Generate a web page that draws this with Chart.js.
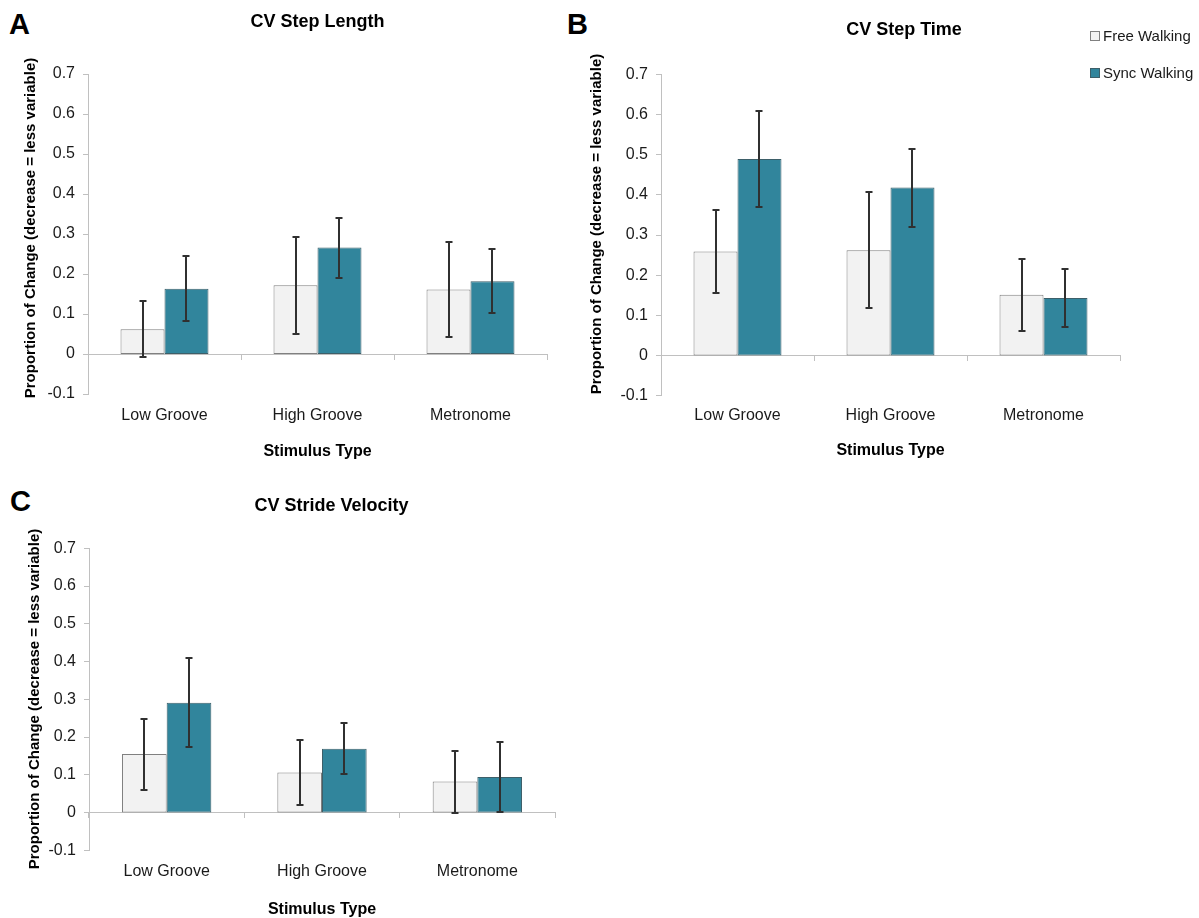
<!DOCTYPE html>
<html>
<head>
<meta charset="utf-8">
<script src="https://cdn.jsdelivr.net/npm/chart.js@4.4.1/dist/chart.umd.min.js"></script>
<style>
  html, body { margin: 0; padding: 0; background: #fff; overflow: hidden; width: 1199px; height: 918px; }
  body { position: relative; }
  canvas { position: absolute; }
  .tag { position: absolute; font: bold 29px 'Liberation Sans', Arial, sans-serif; line-height: 29px; color: #000; }
</style>
</head>
<body>
<div class="tag" style="left:9px;top:10px">A</div>
<div class="tag" style="left:567px;top:10px">B</div>
<div class="tag" style="left:10px;top:487px">C</div>
<canvas id="panelA" width="635" height="470" style="left:0;top:0"></canvas>
<canvas id="panelB" width="648" height="469" style="left:580px;top:0"></canvas>
<canvas id="panelC" width="663" height="458" style="left:0;top:470px"></canvas>
<script>
// Stimulus conditions and walking conditions
const categories = ['Low Groove', 'High Groove', 'Metronome'];
const seriesNames = ['Free Walking', 'Sync Walking'];

// Value axis range
const yMin = -0.1;
const yMax = 0.7;
const yStep = 0.1;

// CV Step Length: means and error half-widths
const stepLengthFree = [0.062, 0.172, 0.161];
const stepLengthFreeErr = [0.070, 0.121, 0.118];
const stepLengthSync = [0.163, 0.266, 0.182];
const stepLengthSyncErr = [0.081, 0.075, 0.080];

// CV Step Time
const stepTimeFree = [0.259, 0.262, 0.151];
const stepTimeFreeErr = [0.103, 0.144, 0.090];
const stepTimeSync = [0.489, 0.418, 0.143];
const stepTimeSyncErr = [0.120, 0.097, 0.072];

// CV Stride Velocity
const strideVelFree = [0.155, 0.106, 0.082];
const strideVelFreeErr = [0.094, 0.086, 0.082];
const strideVelSync = [0.291, 0.169, 0.094];
const strideVelSyncErr = [0.118, 0.068, 0.093];

const FONT = "'Liberation Sans', Arial, sans-serif";
const FREE_FILL = '#f2f2f2';
const FREE_EDGE = '#808080';
const SYNC_FILL = '#31859c';
const SYNC_EDGE = '#3d5f69';
const AXIS_GRAY = '#c0c0c0';
const TEXT = '#1a1a1a';

// Vertical error bars with short caps, drawn over each bar
const errorBars = {
  id: 'errorBars',
  afterDatasetsDraw(chart) {
    const ctx = chart.ctx;
    const y = chart.scales.y;
    chart.data.datasets.forEach((ds, i) => {
      const meta = chart.getDatasetMeta(i);
      meta.data.forEach((bar, j) => {
        const v = ds.data[j];
        const e = ds.errors[j];
        const top = Math.round(y.getPixelForValue(v + e));
        const bot = Math.round(y.getPixelForValue(v - e));
        const x = Math.round(bar.x);
        ctx.save();
        ctx.strokeStyle = '#303030';
        ctx.lineWidth = 2;
        ctx.beginPath();
        ctx.moveTo(x, top);
        ctx.lineTo(x, bot);
        ctx.stroke();
        ctx.lineWidth = 2;
        ctx.beginPath();
        ctx.moveTo(x - 3.5, top);
        ctx.lineTo(x + 3.5, top);
        ctx.moveTo(x - 3.5, bot);
        ctx.lineTo(x + 3.5, bot);
        ctx.stroke();
        ctx.restore();
      });
    });
  }
};

// Rotated value-axis caption
const valueAxisCaption = {
  id: 'valueAxisCaption',
  afterDraw(chart, args, opts) {
    if (!opts || !opts.text) return;
    const ctx = chart.ctx;
    ctx.save();
    ctx.translate(opts.x, opts.y);
    ctx.rotate(-Math.PI / 2);
    ctx.font = 'bold 15px ' + FONT;
    ctx.fillStyle = '#000';
    ctx.textAlign = 'center';
    ctx.textBaseline = 'middle';
    ctx.fillText(opts.text, 0, 0);
    ctx.restore();
  }
};

// Stacked key with small square swatches, built from the datasets
const stackedKey = {
  id: 'stackedKey',
  afterDraw(chart, args, opts) {
    if (!opts || !opts.show) return;
    const ctx = chart.ctx;
    ctx.save();
    ctx.font = '15px ' + FONT;
    ctx.textBaseline = 'middle';
    ctx.textAlign = 'left';
    chart.data.datasets.forEach((ds, i) => {
      const top = opts.y + i * opts.gap;
      ctx.fillStyle = ds.backgroundColor;
      ctx.fillRect(opts.x, top, opts.box, opts.box);
      ctx.strokeStyle = ds.borderColor;
      ctx.lineWidth = 1;
      ctx.strokeRect(opts.x + 0.5, top + 0.5, opts.box - 1, opts.box - 1);
      ctx.fillStyle = TEXT;
      ctx.fillText(ds.label, opts.x + opts.box + 3, top + opts.box / 2 + 0.5);
    });
    ctx.restore();
  }
};

function makePanel(id, title, free, freeErr, sync, syncErr, g) {
  return new Chart(document.getElementById(id), {
    type: 'bar',
    data: {
      labels: categories,
      datasets: [
        { label: seriesNames[0], data: free, errors: freeErr,
          backgroundColor: FREE_FILL, borderColor: FREE_EDGE, borderWidth: 1, borderSkipped: false },
        { label: seriesNames[1], data: sync, errors: syncErr,
          backgroundColor: SYNC_FILL, borderColor: SYNC_EDGE, borderWidth: 1, borderSkipped: false }
      ]
    },
    options: {
      responsive: false,
      animation: false,
      devicePixelRatio: 1,
      datasets: { bar: { categoryPercentage: 0.575, barPercentage: 1.0 } },
      layout: { padding: { left: 0, right: 0, top: 0, bottom: g.padBottom } },
      plugins: {
        legend: { display: false },
        tooltip: { enabled: false },
        title: {
          display: true, text: title, color: '#000',
          font: { family: FONT, size: 18, weight: 'bold' },
          padding: g.titlePad
        },
        valueAxisCaption: { text: 'Proportion of Change (decrease = less variable)', x: g.capX, y: g.capY },
        stackedKey: g.key || { show: false }
      },
      scales: {
        x: {
          type: 'category',
          offset: true,
          grid: { display: false, drawTicks: false },
          border: { display: false },
          ticks: { color: TEXT, font: { family: FONT, size: 16 }, padding: g.labelPad, maxRotation: 0 },
          title: {
            display: true, text: 'Stimulus Type', color: '#000',
            font: { family: FONT, size: 16, weight: 'bold' },
            padding: { top: 4, bottom: 4 }
          },
          afterFit(scale) { scale.height = g.xHeight; }
        },
        // axis line through zero with short marks between the groups
        zeroLine: {
          type: 'category',
          axis: 'x',
          position: { y: 0 },
          offset: true,
          grid: { offset: true, drawOnChartArea: false, drawTicks: true, tickLength: 5, color: AXIS_GRAY, lineWidth: 1 },
          border: { display: true, color: AXIS_GRAY, width: 1 },
          ticks: { display: false }
        },
        y: {
          type: 'linear',
          min: yMin,
          max: yMax,
          ticks: {
            stepSize: yStep,
            color: TEXT,
            font: { family: FONT, size: 16 },
            padding: 8,
            callback: (v) => {
              const r = Math.round(v * 10) / 10;
              return r === 0 ? '0' : r.toFixed(1);
            }
          },
          grid: { drawOnChartArea: false, drawTicks: true, tickLength: 5, color: AXIS_GRAY },
          border: { display: true, color: AXIS_GRAY, width: 1 },
          afterFit(scale) { scale.width = g.yWidth; }
        },
        // empty right-hand margin so the title centres over the plot
        yMargin: {
          type: 'linear',
          position: 'right',
          grid: { display: false, drawTicks: false },
          border: { display: false },
          ticks: { display: false },
          afterFit(scale) { scale.width = g.rightMargin; }
        }
      }
    },
    plugins: [errorBars, valueAxisCaption, stackedKey]
  });
}

makePanel('panelA', 'CV Step Length', stepLengthFree, stepLengthFreeErr, stepLengthSync, stepLengthSyncErr, {
  rightMargin: 88, padBottom: 4.4, yWidth: 88, xHeight: 71.6,
  titlePad: { top: 11.2, bottom: 41.2 }, labelPad: 11.5,
  capX: 31, capY: 228
});

makePanel('panelB', 'CV Step Time', stepTimeFree, stepTimeFreeErr, stepTimeSync, stepTimeSyncErr, {
  rightMargin: 108, padBottom: 4.4, yWidth: 81, xHeight: 68.9,
  titlePad: { top: 18.8, bottom: 33.9 }, labelPad: 10.5,
  capX: 17, capY: 224,
  key: { show: true, x: 510, y: 31, gap: 37, box: 10 }
});

makePanel('panelC', 'CV Stride Velocity', strideVelFree, strideVelFreeErr, strideVelSync, strideVelSyncErr, {
  rightMargin: 108, padBottom: 4.4, yWidth: 89, xHeight: 73.3,
  titlePad: { top: 25.5, bottom: 31.2 }, labelPad: 12,
  capX: 35, capY: 229
});
</script>
</body>
</html>
